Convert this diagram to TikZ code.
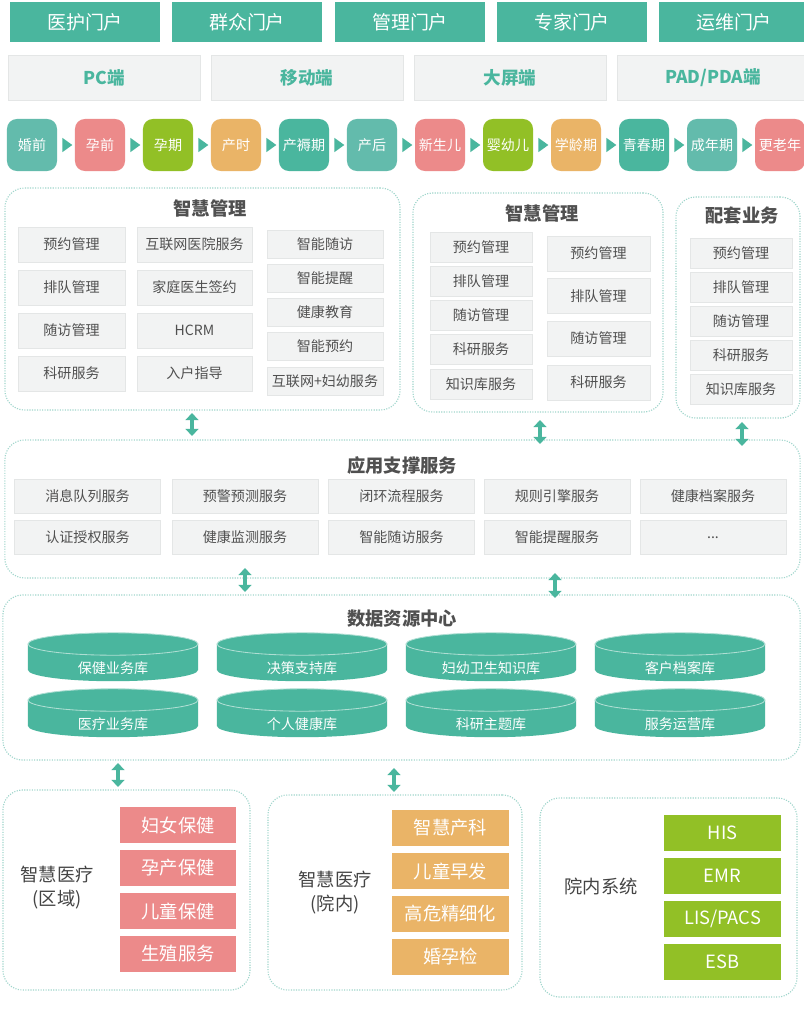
\documentclass[tikz,border=0pt]{standalone}
\usepackage{fontspec}
\setmainfont{Noto Sans CJK SC}
\usepackage{xcolor}
\usepackage{tikz}
\usetikzlibrary{shapes.geometric,arrows.meta}
\definecolor{accent}{RGB}{74,182,158}
\definecolor{softteal}{RGB}{99,187,172}
\definecolor{rose}{RGB}{236,138,138}
\definecolor{leaf}{RGB}{146,192,38}
\definecolor{amber}{RGB}{234,180,103}
\definecolor{textgray}{RGB}{80,80,80}
\definecolor{panel}{RGB}{242,243,243}
\definecolor{panelline}{RGB}{228,230,230}
\definecolor{dotline}{RGB}{160,214,204}

% database drum, centre of its top face at (#1,#2)
\newcommand{\drum}[2]{%
  \fill[accent] ([xshift=-2.125cm]#1,#2) -- ([xshift=-2.125cm,yshift=-0.65cm]#1,#2)
    arc[start angle=180, end angle=360, x radius=2.125cm, y radius=0.28cm]
    -- ([xshift=2.125cm]#1,#2) -- cycle;
  \filldraw[fill=accent, draw=white!55!accent, line width=0.6pt] (#1,#2) ellipse [x radius=2.125cm, y radius=0.28cm];}

\begin{document}
\begin{tikzpicture}[
  x=0.025cm, y=-0.025cm,
  portal/.style={rectangle, fill=accent, text=white, minimum width=3.75cm, minimum height=1cm, font=\fontsize{13.5}{15}\selectfont},
  device/.style={rectangle, fill=panel, draw=panelline, text=accent, minimum width=4.8cm, minimum height=1.125cm, font=\fontsize{12.5}{14}\selectfont\bfseries},
  stage/.style={rectangle, rounded corners=7pt, text=white, minimum width=1.25cm, minimum height=1.3cm, inner sep=1pt, font=\fontsize{10}{12}\selectfont},
  tri/.style={isosceles triangle, isosceles triangle stretches, fill=accent, inner sep=0pt, minimum width=0.36cm, minimum height=0.25cm},
  group/.style={rectangle, rounded corners=14pt, draw=dotline, densely dotted, thick},
  title/.style={text=textgray, font=\fontsize{13}{15}\selectfont\bfseries},
  item/.style={rectangle, fill=panel, draw=panelline, text=textgray, inner sep=1pt, font=\fontsize{10}{12}\selectfont},
  db/.style={text=white, inner sep=1pt, font=\fontsize{10}{12}\selectfont},
  tag/.style={rectangle, text=white, minimum width=2.9cm, minimum height=0.9cm, font=\fontsize{13}{15}\selectfont},
  side/.style={align=center, text=textgray!85!black, font=\fontsize{13}{17}\selectfont},
  dbl/.style={{Triangle[width=9pt,length=5pt]}-{Triangle[width=9pt,length=5pt]}, line width=2.2pt, draw=accent}
]
\path[use as bounding box, fill=white] (0,0) rectangle (803,1030);

% Portals
\node[portal] (yihu) at (85,22) {医护门户};
\node[portal] (qunzhong) at (247,22) {群众门户};
\node[portal] (guanli) at (410,22) {管理门户};
\node[portal] (zhuanjia) at (572,22) {专家门户};
\node[portal] (yunwei) at (734,22) {运维门户};

% Devices
\node[device] (pc) at (104,78) {PC端};
\node[device] (mobile) at (307,78) {移动端};
\node[device] (screen) at (510,78) {大屏端};
\node[device] (pad) at (713,78) {PAD/PDA端};

% Life stages
\node[stage, fill=softteal] (s1) at (32,145) {婚前};
\node[stage, fill=rose] (s2) at (100,145) {孕前};
\node[stage, fill=leaf] (s3) at (168,145) {孕期};
\node[stage, fill=amber] (s4) at (236,145) {产时};
\node[stage, fill=accent] (s5) at (304,145) {产褥期};
\node[stage, fill=softteal] (s6) at (372,145) {产后};
\node[stage, fill=rose] (s7) at (440,145) {新生儿};
\node[stage, fill=leaf] (s8) at (508,145) {婴幼儿};
\node[stage, fill=amber] (s9) at (576,145) {学龄期};
\node[stage, fill=accent] (s10) at (644,145) {青春期};
\node[stage, fill=softteal] (s11) at (712,145) {成年期};
\node[stage, fill=rose] (s12) at (780,145) {更老年};

\path (s1) -- node[tri] (t1) {} (s2);
\path (s2) -- node[tri] (t2) {} (s3);
\path (s3) -- node[tri] (t3) {} (s4);
\path (s4) -- node[tri] (t4) {} (s5);
\path (s5) -- node[tri] (t5) {} (s6);
\path (s6) -- node[tri] (t6) {} (s7);
\path (s7) -- node[tri] (t7) {} (s8);
\path (s8) -- node[tri] (t8) {} (s9);
\path (s9) -- node[tri] (t9) {} (s10);
\path (s10) -- node[tri] (t10) {} (s11);
\path (s11) -- node[tri] (t11) {} (s12);

% Management groups
\node[group, minimum width=9.875cm, minimum height=5.55cm] (mgmtA) at (202.5,299) {};
\node[group, minimum width=6.25cm, minimum height=5.475cm] (mgmtB) at (538,302.5) {};
\node[group, minimum width=3.1cm, minimum height=5.525cm] (extra) at (738,307.5) {};
\node[title] (mgmtAtitle) at (210,208) {智慧管理};
\node[title] (mgmtBtitle) at (542,213) {智慧管理};
\node[title] (extratitle) at (742,216) {配套业务};

\node[item, minimum width=2.675cm, minimum height=0.875cm] (a1) at (71.5,244.5) {预约管理};
\node[item, minimum width=2.675cm, minimum height=0.875cm] (a2) at (71.5,287.5) {排队管理};
\node[item, minimum width=2.675cm, minimum height=0.875cm] (a3) at (71.5,330.5) {随访管理};
\node[item, minimum width=2.675cm, minimum height=0.875cm] (a4) at (71.5,373.5) {科研服务};
\node[item, minimum width=2.875cm, minimum height=0.875cm] (b1) at (194.5,244.5) {互联网医院服务};
\node[item, minimum width=2.875cm, minimum height=0.875cm] (b2) at (194.5,287.5) {家庭医生签约};
\node[item, minimum width=2.875cm, minimum height=0.875cm] (b3) at (194.5,330.5) {HCRM};
\node[item, minimum width=2.875cm, minimum height=0.875cm] (b4) at (194.5,373.5) {入户指导};
\node[item, minimum width=2.9cm, minimum height=0.7cm] (c1) at (325,244) {智能随访};
\node[item, minimum width=2.9cm, minimum height=0.7cm] (c2) at (325,278) {智能提醒};
\node[item, minimum width=2.9cm, minimum height=0.7cm] (c3) at (325,312) {健康教育};
\node[item, minimum width=2.9cm, minimum height=0.7cm] (c4) at (325,346) {智能预约};
\node[item, minimum width=2.9cm, minimum height=0.7cm] (c5) at (325,381) {互联网+妇幼服务};

\node[item, minimum width=2.55cm, minimum height=0.75cm] (d1) at (481,247) {预约管理};
\node[item, minimum width=2.55cm, minimum height=0.75cm] (d2) at (481,281) {排队管理};
\node[item, minimum width=2.55cm, minimum height=0.75cm] (d3) at (481,315) {随访管理};
\node[item, minimum width=2.55cm, minimum height=0.75cm] (d4) at (481,349) {科研服务};
\node[item, minimum width=2.55cm, minimum height=0.75cm] (d5) at (481,384) {知识库服务};
\node[item, minimum width=2.575cm, minimum height=0.875cm] (e1) at (598.5,253.5) {预约管理};
\node[item, minimum width=2.575cm, minimum height=0.875cm] (e2) at (598.5,296) {排队管理};
\node[item, minimum width=2.575cm, minimum height=0.875cm] (e3) at (598.5,338.5) {随访管理};
\node[item, minimum width=2.575cm, minimum height=0.875cm] (e4) at (598.5,382.5) {科研服务};

\node[item, minimum width=2.55cm, minimum height=0.75cm] (f1) at (741,253) {预约管理};
\node[item, minimum width=2.55cm, minimum height=0.75cm] (f2) at (741,287) {排队管理};
\node[item, minimum width=2.55cm, minimum height=0.75cm] (f3) at (741,321) {随访管理};
\node[item, minimum width=2.55cm, minimum height=0.75cm] (f4) at (741,355) {科研服务};
\node[item, minimum width=2.55cm, minimum height=0.75cm] (f5) at (741,389) {知识库服务};

% Support services
\node[group, minimum width=19.875cm, minimum height=3.45cm] (support) at (402.5,509) {};
\node[title] (supporttitle) at (402,466) {应用支撑服务};
\node[item, minimum width=3.65cm, minimum height=0.85cm] (g1) at (87.5,496.5) {消息队列服务};
\node[item, minimum width=3.65cm, minimum height=0.85cm] (g2) at (245,496.5) {预警预测服务};
\node[item, minimum width=3.65cm, minimum height=0.85cm] (g3) at (401.5,496.5) {闭环流程服务};
\node[item, minimum width=3.65cm, minimum height=0.85cm] (g4) at (557,496.5) {规则引擎服务};
\node[item, minimum width=3.65cm, minimum height=0.85cm] (g5) at (713,496.5) {健康档案服务};
\node[item, minimum width=3.65cm, minimum height=0.85cm] (h1) at (87.5,537.5) {认证授权服务};
\node[item, minimum width=3.65cm, minimum height=0.85cm] (h2) at (245,537.5) {健康监测服务};
\node[item, minimum width=3.65cm, minimum height=0.85cm] (h3) at (401.5,537.5) {智能随访服务};
\node[item, minimum width=3.65cm, minimum height=0.85cm] (h4) at (557,537.5) {智能提醒服务};
\node[item, minimum width=3.65cm, minimum height=0.85cm] (h5) at (713,537.5) {...};

% Data center
\node[group, minimum width=19.925cm, minimum height=4.125cm] (data) at (401.5,677.5) {};
\node[title] (datatitle) at (402,619) {数据资源中心};
\drum{113}{644} \drum{302}{644} \drum{491}{644} \drum{680}{644}
\drum{113}{700} \drum{302}{700} \drum{491}{700} \drum{680}{700}
\node[db] (baojian) at (113,668) {保健业务库};
\node[db] (juece) at (302,668) {决策支持库};
\node[db] (fuyou) at (491,668) {妇幼卫生知识库};
\node[db] (kehu) at (680,668) {客户档案库};
\node[db] (yiliao) at (113,724) {医疗业务库};
\node[db] (geren) at (302,724) {个人健康库};
\node[db] (keyan) at (491,724) {科研主题库};
\node[db] (yunying) at (680,724) {服务运营库};

% Bottom systems
\node[group, minimum width=6.175cm, minimum height=5cm] (region) at (126.5,890) {};
\node[side] (regionlabel) at (57,888) {智慧医疗\\(区域)};
\node[tag, fill=rose] (r1) at (178,825) {妇女保健};
\node[tag, fill=rose] (r2) at (178,868) {孕产保健};
\node[tag, fill=rose] (r3) at (178,911) {儿童保健};
\node[tag, fill=rose] (r4) at (178,954) {生殖服务};

\node[group, minimum width=6.35cm, minimum height=4.875cm] (hosp) at (395,892.5) {};
\node[side] (hosplabel) at (335,893) {智慧医疗\\(院内)};
\node[tag, fill=amber] (o1) at (450.5,828) {智慧产科};
\node[tag, fill=amber] (o2) at (450.5,871) {儿童早发};
\node[tag, fill=amber] (o3) at (450.5,914) {高危精细化};
\node[tag, fill=amber] (o4) at (450.5,957) {婚孕检};

\node[group, minimum width=6.425cm, minimum height=4.975cm] (inner) at (668.5,897.5) {};
\node[side] (innerlabel) at (601,886) {院内系统};
\node[tag, fill=leaf] (n1) at (722.5,833) {HIS};
\node[tag, fill=leaf] (n2) at (722.5,876) {EMR};
\node[tag, fill=leaf] (n3) at (722.5,919) {LIS/PACS};
\node[tag, fill=leaf] (n4) at (722.5,962) {ESB};

% Arrows
\coordinate (up1) at (192,413); \coordinate (dn1) at (192,436);
\coordinate (up2) at (540,420); \coordinate (dn2) at (540,444);
\coordinate (up3) at (742,422); \coordinate (dn3) at (742,446);
\coordinate (up4) at (245,568); \coordinate (dn4) at (245,592);
\coordinate (up5) at (555,573); \coordinate (dn5) at (555,598);
\coordinate (up6) at (118,763); \coordinate (dn6) at (118,787);
\coordinate (up7) at (394,768); \coordinate (dn7) at (394,792);
\draw[dbl] (up1) -- (dn1);
\draw[dbl] (up2) -- (dn2);
\draw[dbl] (up3) -- (dn3);
\draw[dbl] (up4) -- (dn4);
\draw[dbl] (up5) -- (dn5);
\draw[dbl] (up6) -- (dn6);
\draw[dbl] (up7) -- (dn7);

\end{tikzpicture}
\end{document}
